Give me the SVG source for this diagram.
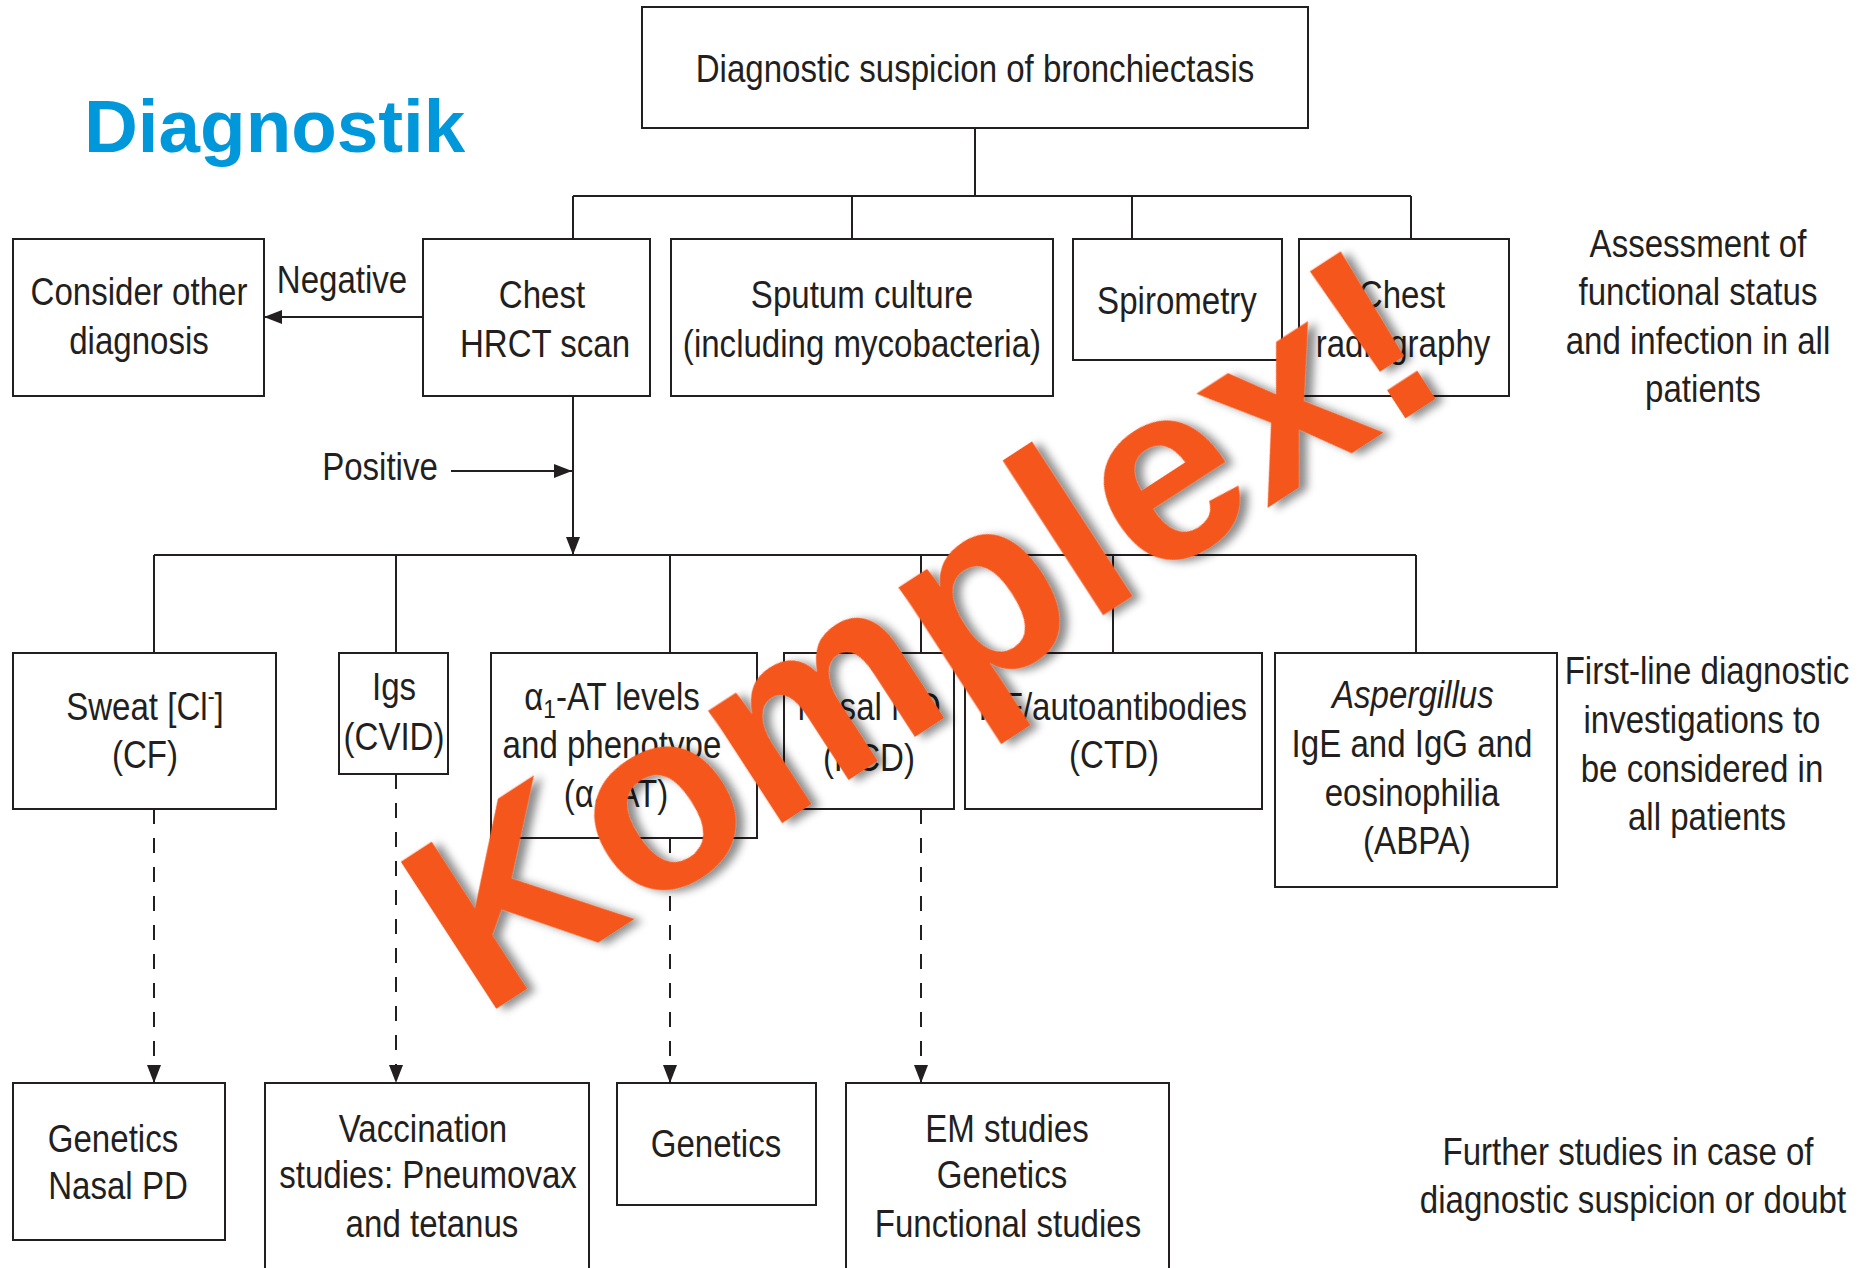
<svg xmlns="http://www.w3.org/2000/svg" width="1870" height="1268" viewBox="0 0 1870 1268">
<style>
.bx{fill:#fff;stroke:#231f20;stroke-width:2}
.ln{fill:none;stroke:#231f20;stroke-width:2}
.ds{fill:none;stroke:#231f20;stroke-width:2;stroke-dasharray:15 14}
.t{font-family:"Liberation Sans",Arial,Helvetica,sans-serif;font-size:38px;fill:#231f20;text-anchor:middle;transform:scaleX(0.87);transform-box:fill-box;transform-origin:center}
.it{font-style:italic}
.title{font-family:"Liberation Sans",Arial,Helvetica,sans-serif;font-size:74.6px;font-weight:bold;fill:#0098DA}
.kx{font-family:"Liberation Sans",Arial,Helvetica,sans-serif;font-size:255px;font-weight:bold;fill:#F5561A}
</style>
<defs>
<marker id="ah" markerWidth="18" markerHeight="14" refX="18" refY="7" orient="auto" markerUnits="userSpaceOnUse"><path d="M0,0 L18,7 L0,14 z" fill="#231f20"/></marker>
<filter id="sh" x="-10%" y="-10%" width="130%" height="130%"><feDropShadow dx="6" dy="6" stdDeviation="4" flood-color="#000" flood-opacity="0.45"/></filter>
</defs>
<rect width="1870" height="1268" fill="#fff"/>

<text class="title" x="84" y="152">Diagnostik</text>

<g id="connectors">
<path class="ln" d="M975,128 V196 M573,196 H1411 M573,196 V239 M852,196 V239 M1132,196 V239 M1411,196 V239"/>
<path class="ln" d="M423,317 H264" marker-end="url(#ah)"/>
<path class="ln" d="M573,396 V555" marker-end="url(#ah)"/>
<path class="ln" d="M451,471 H572" marker-end="url(#ah)"/>
<path class="ln" d="M154,555 H1416 M154,555 V653 M396,555 V653 M670,555 V653 M921,555 V653 M1113,555 V653 M1416,555 V653"/>
<path class="ds" d="M154,809 V1083" marker-end="url(#ah)"/>
<path class="ds" d="M396,774 V1083" marker-end="url(#ah)"/>
<path class="ds" d="M670,838 V1083" marker-end="url(#ah)"/>
<path class="ds" d="M921,809 V1083" marker-end="url(#ah)"/>
<text class="t" x="342" y="293">Negative</text>
<text class="t" x="380" y="480">Positive</text>
</g>

<g id="n-top"><rect class="bx" x="642" y="7" width="666" height="121"/><text class="t" x="975" y="82">Diagnostic suspicion of bronchiectasis</text></g>

<g id="n-consider"><rect class="bx" x="13" y="239" width="251" height="157"/><text class="t" x="139" y="305">Consider other</text><text class="t" x="139" y="354">diagnosis</text></g>
<g id="n-hrct"><rect class="bx" x="423" y="239" width="227" height="157"/><text class="t" x="542" y="308">Chest</text><text class="t" x="545" y="357">HRCT scan</text></g>
<g id="n-sputum"><rect class="bx" x="671" y="239" width="382" height="157"/><text class="t" x="862" y="308">Sputum culture</text><text class="t" x="862" y="357">(including mycobacteria)</text></g>
<g id="n-spiro"><rect class="bx" x="1073" y="239" width="209" height="121"/><text class="t" x="1177" y="314">Spirometry</text></g>
<g id="n-radio"><rect class="bx" x="1299" y="239" width="210" height="157"/><text class="t" x="1402" y="308">Chest</text><text class="t" x="1403" y="357">radiography</text></g>

<g id="lbl-assess"><text class="t" x="1698" y="257">Assessment of</text><text class="t" x="1698" y="305">functional status</text><text class="t" x="1698" y="354">and infection in all</text><text class="t" x="1703" y="402">patients</text></g>

<g id="n-sweat"><rect class="bx" x="13" y="653" width="263" height="156"/><text class="t" x="145" y="720">Sweat [Cl<tspan font-size="24" dy="-16">-</tspan><tspan dy="16">]</tspan></text><text class="t" x="145" y="768">(CF)</text></g>
<g id="n-igs"><rect class="bx" x="339" y="653" width="109" height="121"/><text class="t" x="394" y="700">Igs</text><text class="t" x="394" y="750">(CVID)</text></g>
<g id="n-a1at"><rect class="bx" x="491" y="653" width="266" height="185"/><text class="t" x="612" y="710">α<tspan font-size="26" dy="8">1</tspan><tspan dy="-8">-AT levels</tspan></text><text class="t" x="612" y="758">and phenotype</text><text class="t" x="616" y="807">(α<tspan font-size="26" dy="8">1</tspan><tspan dy="-8">-AT)</tspan></text></g>
<g id="n-nasal"><rect class="bx" x="784" y="653" width="170" height="156"/><text class="t" x="869" y="720">Nasal NO</text><text class="t" x="869" y="771">(PCD)</text></g>
<g id="n-ctd"><rect class="bx" x="965" y="653" width="297" height="156"/><text class="t" x="1113" y="720">RF/autoantibodies</text><text class="t" x="1114" y="768">(CTD)</text></g>
<g id="n-asp"><rect class="bx" x="1275" y="653" width="282" height="234"/><text class="t it" x="1413" y="708">Aspergillus</text><text class="t" x="1412" y="757">IgE and IgG and</text><text class="t" x="1412" y="806">eosinophilia</text><text class="t" x="1417" y="854">(ABPA)</text></g>

<g id="lbl-first"><text class="t" x="1707" y="684">First-line diagnostic</text><text class="t" x="1702" y="733">investigations to</text><text class="t" x="1702" y="782">be considered in</text><text class="t" x="1707" y="830">all patients</text></g>

<g id="n-gen1"><rect class="bx" x="13" y="1083" width="212" height="157"/><text class="t" x="113" y="1152">Genetics</text><text class="t" x="118" y="1199">Nasal PD</text></g>
<g id="n-vacc"><rect class="bx" x="265" y="1083" width="324" height="200"/><text class="t" x="423" y="1142">Vaccination</text><text class="t" x="428" y="1188">studies: Pneumovax</text><text class="t" x="432" y="1237">and tetanus</text></g>
<g id="n-gen2"><rect class="bx" x="617" y="1083" width="199" height="122"/><text class="t" x="716" y="1157">Genetics</text></g>
<g id="n-em"><rect class="bx" x="846" y="1083" width="323" height="200"/><text class="t" x="1007" y="1142">EM studies</text><text class="t" x="1002" y="1188">Genetics</text><text class="t" x="1008" y="1237">Functional studies</text></g>

<g id="lbl-further"><text class="t" x="1628" y="1165">Further studies in case of</text><text class="t" x="1633" y="1213">diagnostic suspicion or doubt</text></g>

<g id="overlay"><text class="kx" filter="url(#sh)" transform="translate(482 1018) rotate(-33)">Komplex!</text></g>
</svg>
